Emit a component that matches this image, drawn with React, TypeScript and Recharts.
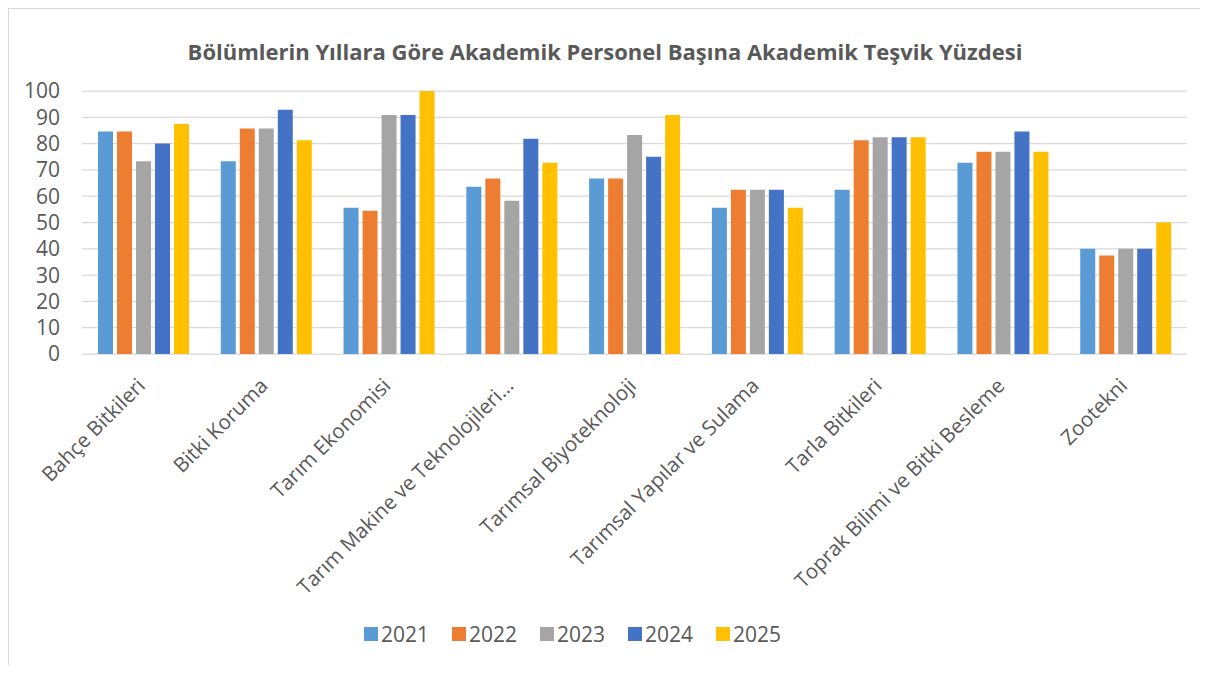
import React from "react";
import { BarChart, Bar, XAxis, YAxis, CartesianGrid } from "recharts";

const departments = [
  "Bahçe Bitkileri",
  "Bitki Koruma",
  "Tarım Ekonomisi",
  "Tarım Makine ve Teknolojileri…",
  "Tarımsal Biyoteknoloji",
  "Tarımsal Yapılar ve Sulama",
  "Tarla Bitkileri",
  "Toprak Bilimi ve Bitki Besleme",
  "Zootekni",
];

const years = ["2021", "2022", "2023", "2024", "2025"];

const y2021 = [84.6, 73.3, 55.6, 63.6, 66.7, 55.6, 62.5, 72.7, 40];
const y2022 = [84.6, 85.7, 54.5, 66.7, 66.7, 62.5, 81.3, 76.9, 37.5];
const y2023 = [73.3, 85.7, 90.9, 58.3, 83.3, 62.5, 82.4, 76.9, 40];
const y2024 = [80, 92.9, 90.9, 81.8, 75, 62.5, 82.4, 84.6, 40];
const y2025 = [87.5, 81.3, 100, 72.7, 90.9, 55.6, 82.4, 76.9, 50];

const yTicks = [0, 10, 20, 30, 40, 50, 60, 70, 80, 90, 100];

const colors = ["#5B9BD5", "#ED7D31", "#A5A5A5", "#4472C4", "#FFC000"];

const seriesValues = [y2021, y2022, y2023, y2024, y2025];

const data = departments.map((name, i) => {
  const row: Record<string, any> = { name };
  years.forEach((yr, j) => {
    row[yr] = seriesValues[j][i];
  });
  return row;
});

const FONT = "'Open Sans', sans-serif";
const TEXT = "#595959";

function CategoryTick({ x, y, payload }: any) {
  return (
    <g transform={`translate(${x},${y})`}>
      <text
        x={3}
        y={25}
        textAnchor="end"
        transform="rotate(-45, 3, 25)"
        fill={TEXT}
        fontSize={20.5}
        fontFamily={FONT}
      >
        {payload.value}
      </text>
    </g>
  );
}

function ChartLegend() {
  return (
    <div
      style={{
        position: "absolute",
        top: 611,
        left: 355,
        display: "flex",
        fontFamily: FONT,
        fontSize: 21,
        color: TEXT,
      }}
    >
      {years.map((yr, i) => (
        <div
          key={yr}
          style={{ display: "flex", alignItems: "center", width: 88 }}
        >
          <span
            style={{
              display: "inline-block",
              width: 14,
              height: 14,
              background: colors[i],
              marginRight: 3,
            }}
          />
          <span>{yr}</span>
        </div>
      ))}
    </div>
  );
}

export default function App() {
  return (
    <div
      style={{
        position: "relative",
        boxSizing: "border-box",
        width: 1194,
        height: 657,
        border: "1px solid #d9d9d9",
        borderBottom: "none",
        background: "#fff",
      }}
    >
      <div
        style={{
          position: "absolute",
          top: 31,
          left: 0,
          width: "100%",
          textAlign: "center",
          fontFamily: FONT,
          fontWeight: 700,
          fontSize: 22,
          lineHeight: "22px",
          color: TEXT,
        }}
      >
        Bölümlerin Yıllara Göre Akademik Personel Başına Akademik Teşvik Yüzdesi
      </div>
      <BarChart
        width={1192}
        height={656}
        data={data}
        margin={{ top: 82, right: 14, left: 0, bottom: 0 }}
        barSize={15}
        barGap={4}
      >
        <CartesianGrid
          vertical={false}
          stroke="#d9d9d9"
          strokeWidth={1.25}
        />
        <XAxis
          dataKey="name"
          interval={0}
          height={311}
          axisLine={false}
          tickLine={false}
          tick={<CategoryTick />}
        />
        <YAxis
          width={73}
          domain={[0, 100]}
          ticks={yTicks}
          interval={0}
          axisLine={false}
          tickLine={false}
          tickMargin={16}
          tick={{ fill: TEXT, fontSize: 21, fontFamily: FONT }}
        />
        {years.map((yr, i) => (
          <Bar
            key={yr}
            dataKey={yr}
            fill={colors[i]}
            isAnimationActive={false}
          />
        ))}
      </BarChart>
      <ChartLegend />
    </div>
  );
}
